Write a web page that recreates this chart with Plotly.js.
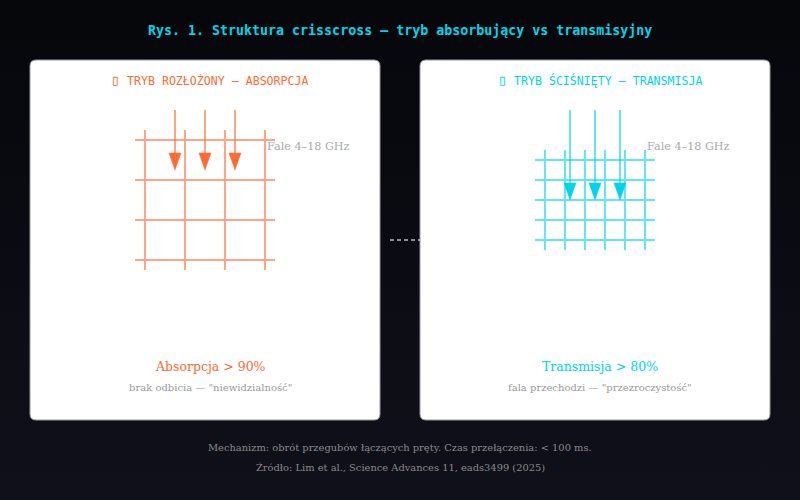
<!DOCTYPE html>
<html>
<head>
<meta charset="utf-8">
<script src="https://cdn.plot.ly/plotly-3.0.1.min.js"></script>
<style>
  html, body { margin: 0; padding: 0; }
  body { width: 800px; height: 500px; background: linear-gradient(#05070b, #10101a); }
  #chart { width: 800px; height: 500px; }
</style>
</head>
<body>
<div id="chart"></div>
<script>
// diagram coordinates (canvas units, y grows downward)
var leftGridX = [145, 185, 225, 265];
var leftGridY = [140, 180, 220, 260];
var leftGridSpanX = [135, 275];
var leftGridSpanY = [130, 270];
var leftArrowX = [175, 205, 235];
var leftArrowY = [110, 170];

var rightGridX = [545, 565, 585, 605, 625, 645];
var rightGridY = [160, 180, 200, 220, 240];
var rightGridSpanX = [535, 655];
var rightGridSpanY = [150, 250];
var rightArrowX = [570, 595, 620];
var rightArrowY = [110, 200];

var orange = '#ff6b35';
var cyan = '#00d4e6';

function gridTrace(xs, ys, spanX, spanY, color){
    var x = [], y = [];
    xs.forEach(function(v){ x.push(v, v, null); y.push(spanY[0], spanY[1], null); });
    ys.forEach(function(v){ x.push(spanX[0], spanX[1], null); y.push(v, v, null); });
    return {x: x, y: y, mode: 'lines', line: {color: color, width: 2}, opacity: 0.6,
            hoverinfo: 'skip', showlegend: false};
}

// shaft + elongated head (tip sits at the arrow's end point)
function arrowTraces(xs, ys, color){
    var x = [], y = [];
    xs.forEach(function(v){ x.push(v, v, null); y.push(ys[0], ys[1] - 10, null); });
    var shaft = {x: x, y: y, mode: 'lines', line: {color: color, width: 2}, opacity: 0.6,
                 hoverinfo: 'skip', showlegend: false};
    var hx = [], hy = [];
    xs.forEach(function(v){
        hx.push(v - 6, v + 6, v, v - 6, null);
        hy.push(ys[1] - 17, ys[1] - 17, ys[1], ys[1] - 17, null);
    });
    var heads = {x: hx, y: hy, mode: 'lines', fill: 'toself', fillcolor: color,
                 line: {color: color, width: 0.5}, hoverinfo: 'skip', showlegend: false};
    return [shaft, heads];
}

var data = [
    gridTrace(leftGridX, leftGridY, leftGridSpanX, leftGridSpanY, orange),
    gridTrace(rightGridX, rightGridY, rightGridSpanX, rightGridSpanY, cyan)
].concat(arrowTraces(leftArrowX, leftArrowY, orange))
 .concat(arrowTraces(rightArrowX, rightArrowY, cyan));

function roundRect(x0, y0, x1, y1, r){
    return 'M' + (x0 + r) + ',' + y0 + ' L' + (x1 - r) + ',' + y0 +
           ' Q' + x1 + ',' + y0 + ' ' + x1 + ',' + (y0 + r) +
           ' L' + x1 + ',' + (y1 - r) + ' Q' + x1 + ',' + y1 + ' ' + (x1 - r) + ',' + y1 +
           ' L' + (x0 + r) + ',' + y1 + ' Q' + x0 + ',' + y1 + ' ' + x0 + ',' + (y1 - r) +
           ' L' + x0 + ',' + (y0 + r) + ' Q' + x0 + ',' + y0 + ' ' + (x0 + r) + ',' + y0 + ' Z';
}

var shapes = [
    {type: 'path', path: roundRect(30, 60, 380, 420, 6), xref: 'x', yref: 'y',
     fillcolor: '#ffffff', line: {color: '#9a9aa0', width: 1}, layer: 'below'},
    {type: 'path', path: roundRect(420, 60, 770, 420, 6), xref: 'x', yref: 'y',
     fillcolor: '#ffffff', line: {color: '#9a9aa0', width: 1}, layer: 'below'},
    {type: 'line', x0: 390, x1: 420, y0: 240, y1: 240, xref: 'x', yref: 'y',
     line: {color: '#bbbbbb', width: 1.5, dash: '4px,3px'}}
];

var mono = 'DejaVu Sans Mono, monospace';
var serif = 'DejaVu Serif, serif';

function txt(x, y, text, size, color, family, anchor){
    return {x: x, y: y, xref: 'x', yref: 'y', text: text, showarrow: false,
            xanchor: anchor || 'center', yanchor: 'middle',
            font: {size: size, color: color, family: family}};
}

var box = '<span style="font-size:15px">\u25AF</span>';

var annotations = [
    txt(400, 30, '<b>Rys. 1. Struktura crisscross — tryb absorbujący vs transmisyjny</b>', 13.3, cyan, mono),
    txt(210, 80, box + ' TRYB ROZŁOŻONY — ABSORPCJA', 11.6, orange, mono),
    txt(600, 80, box + ' TRYB ŚCIŚNIĘTY — TRANSMISJA', 11.6, cyan, mono),
    txt(265, 146, 'Fale 4–18 GHz', 11.2, '#aaaaaa', serif, 'left'),
    txt(645, 146, 'Fale 4–18 GHz', 11.2, '#aaaaaa', serif, 'left'),
    txt(210, 366, 'Absorpcja &gt; 90%', 12.5, orange, serif),
    txt(210, 387, 'brak odbicia — "niewidzialność"', 10, '#999999', serif),
    txt(600, 366, 'Transmisja &gt; 80%', 12.5, cyan, serif),
    txt(600, 387, 'fala przechodzi — "przezroczystość"', 10, '#999999', serif),
    txt(400, 447, 'Mechanizm: obrót przegubów łączących pręty. Czas przełączenia: &lt; 100 ms.', 9.9, '#8a8a8a', serif),
    txt(400, 467, 'Źródło: Lim et al., Science Advances 11, eads3499 (2025)', 9.9, '#8a8a8a', serif)
];

var layout = {
    width: 800, height: 500,
    margin: {l: 0, r: 0, t: 0, b: 0},
    paper_bgcolor: 'rgba(0,0,0,0)',
    plot_bgcolor: 'rgba(0,0,0,0)',
    xaxis: {range: [0, 800], visible: false, fixedrange: true},
    yaxis: {range: [500, 0], visible: false, fixedrange: true},
    shapes: shapes,
    annotations: annotations,
    showlegend: false
};

Plotly.newPlot('chart', data, layout, {displayModeBar: false, staticPlot: true});
</script>
</body>
</html>
